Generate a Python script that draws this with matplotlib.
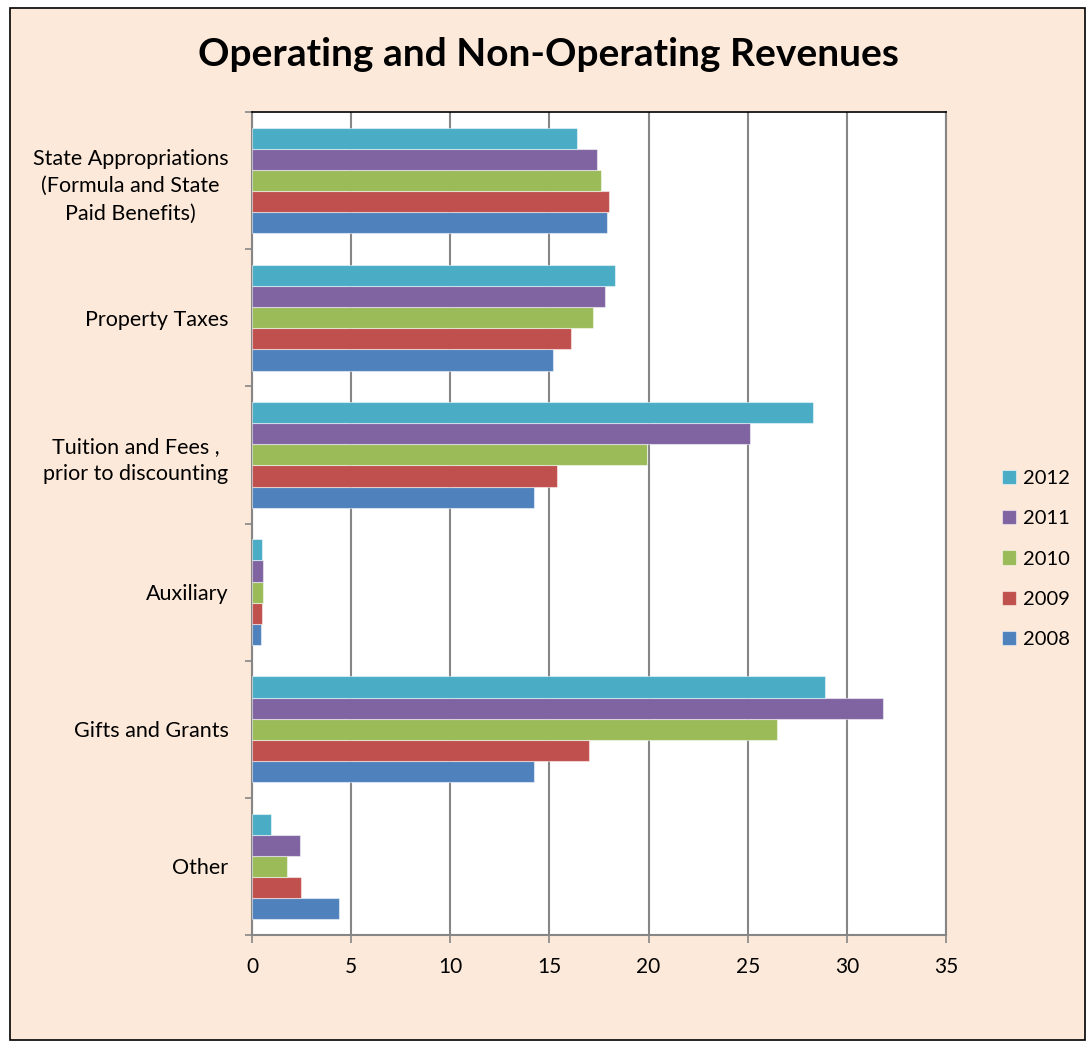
import matplotlib
matplotlib.use("Agg")
import matplotlib.pyplot as plt
import numpy as np
from matplotlib.patches import Rectangle

categories = ["State Appropriations\n(Formula and State\nPaid Benefits)",
              "Property Taxes",
              "Tuition and Fees ,\nprior to discounting",
              "Auxiliary",
              "Gifts and Grants",
              "Other"]
years = ["2008", "2009", "2010", "2011", "2012"]
v2008 = [17.9, 15.2, 14.2, 0.45, 14.2, 4.4]
v2009 = [18.0, 16.1, 15.4, 0.5, 17.0, 2.45]
v2010 = [17.6, 17.2, 19.9, 0.55, 26.5, 1.75]
v2011 = [17.4, 17.8, 25.1, 0.55, 31.8, 2.4]
v2012 = [16.4, 18.3, 28.3, 0.5, 28.9, 0.95]
series = [v2008, v2009, v2010, v2011, v2012]
colors = ["#4F81BD", "#C0504D", "#9BBB59", "#8064A2", "#4BACC6"]
xticks = [0, 5, 10, 15, 20, 25, 30, 35]

plt.rcParams['font.family'] = ['Lato', 'DejaVu Sans']

W, H = 1087, 1046
fig = plt.figure(figsize=(W / 100, H / 100), dpi=100, facecolor="white")
bg = "#FDE9D9"
fig.patches.append(Rectangle((10 / W, 1 - 1040 / H), (1085 - 10) / W, (1040 - 8) / H,
                             transform=fig.transFigure, facecolor=bg,
                             edgecolor="black", linewidth=1.2, zorder=-10))

ax = fig.add_axes([252 / W, 1 - 935 / H, (946 - 252) / W, (935 - 112) / H])
ax.set_zorder(1)
ax.set_facecolor("white")

n = len(categories)
pos = np.arange(n)[::-1]  # first category at top
gap = 1.5
bw = 1.0 / (len(series) + gap)
for i, (vals, c, yr) in enumerate(zip(series, colors, years)):
    y = pos + (i - (len(series) - 1) / 2) * bw
    ax.barh(y, vals, height=bw, color=c, edgecolor=(1, 1, 1, 0.5),
            linewidth=0.8, label=yr, zorder=3)

ax.set_xlim(0, 35)
ax.set_ylim(-0.5, n - 0.5)
ax.set_xticks(xticks)
ax.set_xticklabels([str(t) for t in xticks], fontsize=15)
ax.xaxis.grid(True, color="#868686", linewidth=1.5, zorder=0)
ax.set_axisbelow(True)

ax.set_yticks(pos)
ax.set_yticklabels(categories, fontsize=15.5)
for lbl in ax.get_yticklabels():
    lbl.set_multialignment("center")
    lbl.set_linespacing(1.45)
ax.set_yticks(np.arange(-0.5, n, 1.0), minor=True)
ax.tick_params(axis="y", which="major", length=0, pad=17)
ax.tick_params(axis="y", which="minor", length=5, color="#868686", width=1.2)
ax.tick_params(axis="x", which="major", length=6, color="#868686", width=1.2,
               pad=10)

for s in ["left", "bottom", "right"]:
    ax.spines[s].set_color("#868686")
    ax.spines[s].set_linewidth(1.5)
ax.spines["top"].set_color("black")
ax.spines["top"].set_linewidth(1.2)

handles, labels = ax.get_legend_handles_labels()
leg = fig.legend(handles[::-1], labels[::-1], loc="center left",
                 bbox_to_anchor=(984 / W, 1 - 559 / H), frameon=False,
                 fontsize=14.5, handlelength=0.7, handleheight=0.7,
                 handletextpad=0.35, labelspacing=1.15)

fig.text(0.505, 1 - 55 / H, "Operating and Non-Operating Revenues",
         ha="center", va="center", fontsize=28, fontweight="bold")

fig.savefig("out.png", dpi=100, facecolor=fig.get_facecolor())
